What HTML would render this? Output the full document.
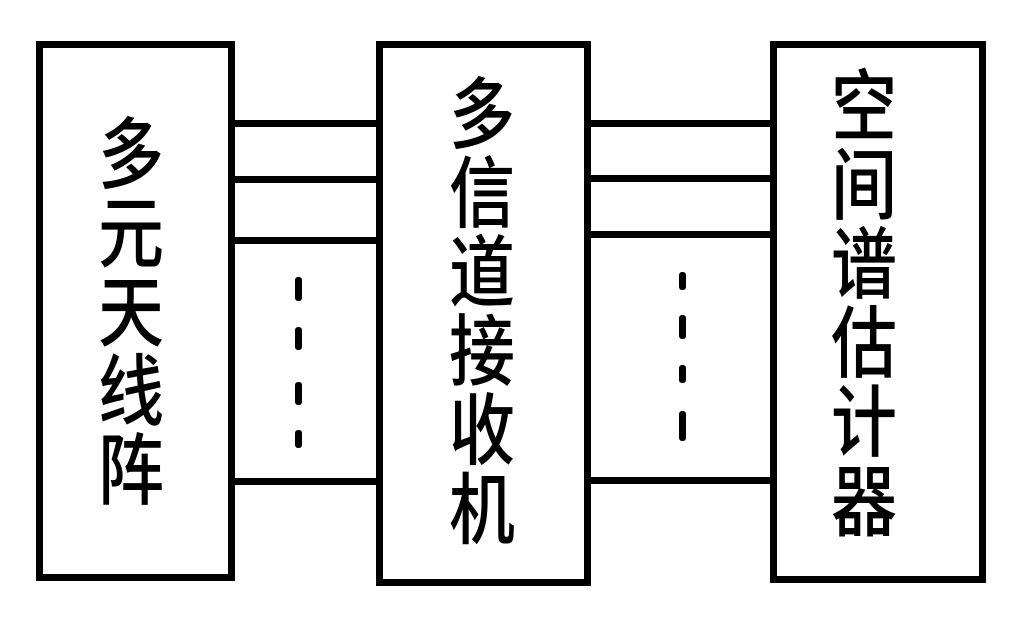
<!DOCTYPE html>
<html><head><meta charset="utf-8"><style>
html,body{margin:0;padding:0;background:#fff;}
body{width:1024px;height:618px;position:relative;overflow:hidden;}
.b{position:absolute;border:7px solid #000;box-sizing:border-box;background:#fff;}
.h{position:absolute;height:7px;background:#000;}
.d{position:absolute;width:7px;background:#000;border-radius:3px;}
.col{position:absolute;width:80px;text-align:center;font-family:"Noto Sans CJK SC","WenQuanYi Zen Hei",sans-serif;font-size:66px;font-weight:500;line-height:67px;color:#000;transform:scaleY(1.18);transform-origin:top center;}
</style></head><body>
<div class="b" style="left:36px;top:41px;width:199px;height:540px"></div>
<div class="b" style="left:376px;top:41px;width:215px;height:545px"></div>
<div class="b" style="left:770px;top:41px;width:216px;height:542px"></div>

<div class="h" style="left:235px;width:141px;top:120px"></div>
<div class="h" style="left:235px;width:141px;top:176px"></div>
<div class="h" style="left:235px;width:141px;top:237px"></div>
<div class="h" style="left:235px;width:141px;top:478px"></div>

<div class="h" style="left:591px;width:179px;top:120px"></div>
<div class="h" style="left:591px;width:179px;top:175px"></div>
<div class="h" style="left:591px;width:179px;top:231px"></div>
<div class="h" style="left:591px;width:179px;top:477px"></div>

<div class="d" style="left:295px;top:277px;height:24px"></div>
<div class="d" style="left:295px;top:327px;height:23px"></div>
<div class="d" style="left:295px;top:382px;height:23px"></div>
<div class="d" style="left:295px;top:430px;height:18px"></div>

<div class="d" style="left:679px;top:272px;height:18px"></div>
<div class="d" style="left:679px;top:315px;height:24px"></div>
<div class="d" style="left:679px;top:365px;height:18px"></div>
<div class="d" style="left:679px;top:411px;height:30px"></div>

<div class="col" style="left:91px;top:110px">多<br>元<br>天<br>线<br>阵</div>
<div class="col" style="left:442px;top:70px">多<br>信<br>道<br>接<br>收<br>机</div>
<div class="col" style="left:824px;top:62px">空<br>间<br>谱<br>估<br>计<br>器</div>
</body></html>
